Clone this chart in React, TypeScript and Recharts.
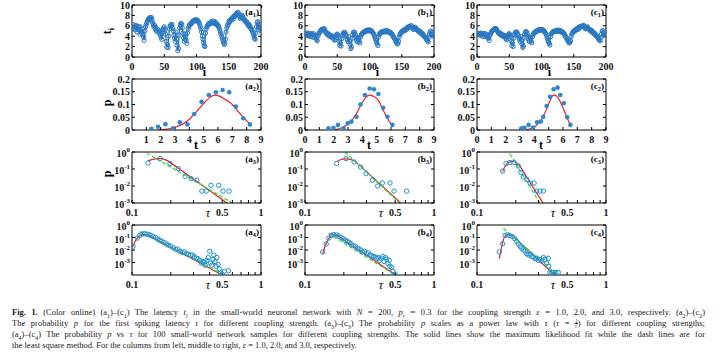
import React from 'react';
import { ComposedChart, LineChart, Line, Scatter, XAxis, YAxis } from 'recharts';

// ---- row 1: latency t_i of neuron i (eps = 1, 2, 3)
const latencyA = [
  5.6, 6.2, 5.4, 6.0, 5.2, 6.1, 5.6, 4.8, 5.9, 5.3,
  5.7, 4.4, 5.8, 5.0, 4.6, 5.4, 4.2, 3.8, 3.2, 5.0,
  5.8, 6.2, 6.6, 6.9, 7.2, 7.4, 7.3, 7.6, 7.5, 7.6,
  7.1, 6.6, 6.2, 5.8, 6.1, 5.4, 5.7, 5.0, 5.4, 4.8,
  5.2, 4.6, 5.0, 4.2, 3.8, 3.4, 4.6, 5.2, 5.6, 5.8,
  5.2, 4.4, 3.0, 1.9, 2.4, 1.8, 4.0, 5.4, 5.9, 6.2,
  6.0, 6.3, 5.6, 5.0, 4.2, 3.6, 3.0, 4.8, 3.4, 2.2,
  1.2, 1.6, 4.2, 5.6, 6.2, 6.5, 6.3, 5.6, 4.6, 3.6,
  3.0, 4.4, 4.0, 3.2, 2.6, 4.6, 5.4, 5.8, 6.2, 6.1,
  6.4, 6.6, 6.5, 6.8, 7.0, 6.9, 7.1, 7.0, 7.2, 6.9,
  7.1, 7.0, 6.8, 6.6, 6.2, 5.8, 5.4, 4.8, 4.0, 3.4,
  2.8, 2.2, 2.0, 4.6, 5.4, 5.8, 6.0, 6.3, 6.2, 6.5,
  6.4, 6.6, 6.8, 6.5, 6.7, 6.9, 6.6, 6.4, 6.8, 6.5,
  6.3, 6.1, 6.2, 5.9, 5.6, 5.2, 4.8, 4.4, 4.0, 3.6,
  3.2, 2.8, 2.4, 2.6, 3.4, 4.8, 5.6, 6.0, 6.3, 6.6,
  7.0, 6.8, 7.2, 7.1, 7.4, 7.6, 7.3, 7.8, 8.0, 7.8,
  8.2, 8.4, 8.3, 8.6, 8.5, 8.1, 7.8, 7.4, 7.6, 7.9,
  8.0, 7.7, 7.4, 7.2, 6.9, 7.0, 6.6, 6.8, 6.4, 6.1,
  6.3, 5.8, 6.0, 5.6, 5.4, 5.2, 4.8, 4.4, 4.0, 3.6,
  3.4, 4.6, 5.8, 6.6, 6.8, 6.2, 5.8, 5.2, 5.6, 5.0,
];
const latencyB = [
  4.3, 4.6, 4.2, 4.5, 4.1, 4.6, 4.3, 3.9, 4.5, 4.2,
  4.4, 3.8, 4.5, 4.0, 3.8, 4.2, 3.6, 3.4, 3.1, 4.0,
  4.4, 4.6, 4.8, 5.0, 5.2, 5.3, 5.2, 5.4, 5.4, 5.4,
  5.1, 4.8, 4.6, 4.4, 4.6, 4.2, 4.4, 4.0, 4.2, 3.9,
  4.1, 3.8, 4.0, 3.6, 3.4, 3.2, 3.8, 4.1, 4.3, 4.4,
  4.1, 3.7, 2.9, 2.2, 2.6, 2.1, 3.5, 4.2, 4.5, 4.7,
  4.6, 4.7, 4.3, 4.0, 3.6, 3.3, 2.9, 3.9, 3.1, 2.4,
  1.6, 1.9, 3.6, 4.3, 4.7, 4.8, 4.7, 4.3, 3.8, 3.2,
  2.9, 3.7, 3.5, 3.0, 2.7, 3.8, 4.2, 4.4, 4.6, 4.6,
  4.8, 4.9, 4.8, 5.0, 5.1, 5.0, 5.2, 5.1, 5.2, 5.0,
  5.2, 5.1, 5.0, 4.9, 4.7, 4.5, 4.3, 3.9, 3.5, 3.2,
  2.8, 2.5, 2.2, 3.8, 4.3, 4.5, 4.6, 4.8, 4.7, 4.9,
  4.8, 4.9, 5.0, 4.8, 5.0, 5.1, 4.9, 4.8, 5.0, 4.9,
  4.7, 4.6, 4.7, 4.5, 4.4, 4.2, 3.9, 3.7, 3.5, 3.3,
  3.0, 2.8, 2.5, 2.6, 3.0, 3.8, 4.3, 4.5, 4.7, 4.9,
  5.0, 4.9, 5.2, 5.1, 5.3, 5.4, 5.2, 5.6, 5.7, 5.6,
  5.8, 5.9, 5.8, 6.0, 6.0, 5.7, 5.6, 5.3, 5.4, 5.6,
  5.7, 5.5, 5.3, 5.2, 5.0, 5.1, 4.8, 5.0, 4.7, 4.5,
  4.6, 4.3, 4.4, 4.1, 3.9, 3.9, 3.7, 3.5, 3.3, 3.1,
  2.9, 3.8, 4.4, 4.8, 5.0, 4.6, 4.3, 4.0, 4.4, 4.1,
];
const latencyC = [
  4.4, 4.6, 4.3, 4.5, 4.2, 4.6, 4.4, 4.0, 4.5, 4.3,
  4.5, 3.9, 4.5, 4.1, 3.9, 4.3, 3.8, 3.6, 3.2, 4.1,
  4.5, 4.7, 4.9, 5.1, 5.2, 5.3, 5.3, 5.5, 5.4, 5.4,
  5.1, 4.9, 4.7, 4.5, 4.7, 4.3, 4.5, 4.1, 4.3, 4.0,
  4.2, 3.9, 4.1, 3.7, 3.5, 3.3, 3.9, 4.2, 4.4, 4.5,
  4.2, 3.8, 3.0, 2.2, 2.7, 2.0, 3.6, 4.3, 4.6, 4.8,
  4.7, 4.8, 4.4, 4.1, 3.7, 3.4, 3.0, 4.0, 3.2, 2.4,
  1.8, 2.1, 3.7, 4.4, 4.8, 4.9, 4.8, 4.4, 3.9, 3.3,
  3.0, 3.8, 3.6, 3.0, 2.7, 3.9, 4.3, 4.5, 4.7, 4.7,
  4.9, 5.0, 4.9, 5.1, 5.2, 5.1, 5.3, 5.2, 5.3, 5.1,
  5.3, 5.2, 5.1, 5.0, 4.8, 4.6, 4.4, 4.0, 3.6, 3.2,
  2.9, 2.6, 2.3, 3.9, 4.4, 4.6, 4.7, 4.9, 4.8, 5.0,
  4.9, 5.0, 5.1, 4.9, 5.1, 5.2, 5.0, 4.9, 5.1, 5.0,
  4.8, 4.7, 4.8, 4.6, 4.5, 4.3, 4.0, 3.8, 3.6, 3.3,
  3.1, 2.9, 2.7, 2.8, 3.1, 3.9, 4.4, 4.6, 4.8, 5.0,
  5.1, 5.0, 5.3, 5.2, 5.4, 5.5, 5.3, 5.7, 5.8, 5.7,
  5.8, 5.9, 5.9, 6.0, 6.1, 5.9, 5.7, 5.4, 5.5, 5.7,
  5.8, 5.6, 5.4, 5.3, 5.1, 5.2, 4.9, 5.1, 4.8, 4.6,
  4.7, 4.4, 4.5, 4.2, 4.0, 4.0, 3.8, 3.6, 3.4, 3.2,
  3.1, 3.7, 4.4, 4.9, 5.1, 4.7, 4.4, 4.1, 4.5, 4.2,
];

// ---- row 2: probability p of first spiking latency t
const a2T = [1.35, 1.82, 2.33, 2.87, 3.33, 3.87, 4.34, 4.85, 5.36, 5.85, 6.32, 6.78, 7.25, 7.76, 8.23];
const a2P = [0.005, 0.013, 0.023, 0.007, 0.03, 0.022, 0.063, 0.111, 0.137, 0.148, 0.157, 0.148, 0.092, 0.046, 0.022];
const a2FitT = [1.8, 2.2, 2.6, 3.0, 3.5, 4.0, 4.5, 5.0, 5.4, 5.75, 6.1, 6.5, 7.0, 7.5, 8.0, 8.25];
const a2FitP = [0, 0.002, 0.005, 0.011, 0.022, 0.042, 0.072, 0.104, 0.126, 0.137, 0.133, 0.12, 0.1, 0.066, 0.036, 0.024];

const b2T = [1.64, 1.99, 2.3, 2.7, 2.98, 3.24, 3.59, 3.87, 4.18, 4.51, 4.81, 5.12, 5.45, 5.75, 6.1];
const b2P = [0.007, 0.009, 0.02, 0.007, 0.026, 0.033, 0.052, 0.1, 0.137, 0.163, 0.16, 0.141, 0.087, 0.052, 0.02];
const b2FitT = [1.9, 2.3, 2.7, 3.2, 3.6, 3.9, 4.2, 4.46, 4.75, 5.1, 5.45, 5.75, 6.1];
const b2FitP = [0, 0.004, 0.013, 0.033, 0.065, 0.098, 0.125, 0.137, 0.133, 0.118, 0.078, 0.046, 0.016];

const c2T = [3.12, 3.31, 3.6, 3.91, 4.19, 4.45, 4.62, 4.86, 5.1, 5.34, 5.62, 5.81, 6.05, 6.29, 6.52];
const c2P = [0.007, 0.009, 0.02, 0.01, 0.03, 0.033, 0.052, 0.094, 0.13, 0.16, 0.166, 0.137, 0.105, 0.05, 0.02];
const c2FitT = [3.3, 3.7, 4.1, 4.5, 4.8, 5.05, 5.34, 5.55, 5.8, 6.05, 6.3, 6.5];
const c2FitP = [0, 0.005, 0.016, 0.04, 0.075, 0.11, 0.137, 0.133, 0.112, 0.08, 0.046, 0.02];

// ---- row 3: p vs tau (one network)
const a3Tau = [0.133, 0.165, 0.197, 0.229, 0.258, 0.287, 0.318, 0.348, 0.377, 0.41, 0.47, 0.508, 0.566];
const a3P = [0.225, 0.41, 0.21, 0.105, 0.037, 0.027, 0.022, 0.005, 0.005, 0.011, 0.011, 0.005, 0.005];
const a3MleTau = [0.133, 0.138, 0.145, 0.152, 0.16, 0.168, 0.177, 0.19, 0.32, 0.546];
const a3MleP = [0.29, 0.33, 0.37, 0.395, 0.41, 0.405, 0.38, 0.3, 0.018, 0.001];
const a3LsqTau = [0.13, 0.6];
const a3LsqP = [0.87, 0.001];

const b3Tau = [0.176, 0.208, 0.24, 0.27, 0.297, 0.333, 0.366, 0.398, 0.456, 0.49, 0.614];
const b3P = [0.21, 0.41, 0.26, 0.13, 0.053, 0.022, 0.01, 0.015, 0.015, 0.005, 0.005];
const b3MleTau = [0.176, 0.181, 0.188, 0.197, 0.205, 0.215, 0.227, 0.245, 0.368, 0.552];
const b3MleP = [0.26, 0.31, 0.35, 0.385, 0.4, 0.395, 0.36, 0.28, 0.017, 0.001];
const b3LsqTau = [0.204, 0.54];
const b3LsqP = [1.0, 0.001];

const c3Tau = [0.158, 0.168, 0.18, 0.194, 0.209, 0.219, 0.229, 0.243, 0.258, 0.277, 0.29, 0.308, 0.327];
const c3P = [0.076, 0.21, 0.24, 0.24, 0.15, 0.061, 0.034, 0.024, 0.015, 0.015, 0.005, 0.005, 0.005];
const c3MleTau = [0.158, 0.161, 0.165, 0.17, 0.175, 0.18, 0.186, 0.193, 0.2, 0.215, 0.264, 0.325];
const c3MleP = [0.07, 0.1, 0.14, 0.19, 0.23, 0.26, 0.28, 0.28, 0.25, 0.15, 0.012, 0.001];
const c3LsqTau = [0.18, 0.304];
const c3LsqP = [0.8, 0.0011];

// ---- row 4: p vs tau (100 network samples)
const a4Tau = [0.102, 0.11, 0.115, 0.12, 0.125, 0.13, 0.135, 0.14, 0.146, 0.152, 0.158, 0.164, 0.17, 0.177, 0.185, 0.192, 0.2, 0.21, 0.218, 0.226, 0.235, 0.245, 0.255, 0.265, 0.275, 0.285, 0.295, 0.305, 0.315, 0.325, 0.335, 0.345, 0.355, 0.365, 0.37, 0.38, 0.39, 0.4, 0.405, 0.415, 0.425, 0.43, 0.44, 0.45, 0.455, 0.465, 0.475, 0.485, 0.5, 0.52, 0.56];
const a4P = [0.02, 0.09, 0.15, 0.19, 0.2, 0.19, 0.17, 0.15, 0.12, 0.1, 0.075, 0.06, 0.05, 0.04, 0.03, 0.024, 0.02, 0.015, 0.011, 0.012, 0.008, 0.0065, 0.007, 0.005, 0.0045, 0.0038, 0.004, 0.0028, 0.0022, 0.002, 0.0015, 0.0009, 0.0012, 0.0011, 0.0006, 0.0015, 0.0025, 0.008, 0.0009, 0.0006, 0.0018, 0.004, 0.0012, 0.0005, 0.0025, 0.0007, 0.0003, 0.00015, 0.00012, 0.0002, 0.00022];
const a4MleTau = [0.101, 0.104, 0.107, 0.11, 0.114, 0.118, 0.123, 0.128, 0.135, 0.26, 0.5];
const a4MleP = [0.018, 0.035, 0.06, 0.09, 0.13, 0.16, 0.175, 0.17, 0.15, 0.0039, 0.0001];
const a4LsqTau = [0.115, 0.5];
const a4LsqP = [0.3, 0.00012];

const b4Tau = [0.137, 0.146, 0.153, 0.16, 0.167, 0.175, 0.183, 0.19, 0.198, 0.205, 0.213, 0.22, 0.228, 0.236, 0.245, 0.255, 0.262, 0.27, 0.28, 0.29, 0.3, 0.31, 0.32, 0.33, 0.34, 0.35, 0.36, 0.37, 0.38, 0.39, 0.4, 0.41, 0.42, 0.43, 0.44, 0.45, 0.455, 0.47, 0.48, 0.5];
const b4P = [0.007, 0.03, 0.09, 0.15, 0.17, 0.16, 0.13, 0.1, 0.08, 0.06, 0.05, 0.04, 0.03, 0.022, 0.02, 0.014, 0.012, 0.01, 0.007, 0.008, 0.005, 0.006, 0.004, 0.0035, 0.003, 0.0028, 0.0022, 0.0025, 0.0015, 0.002, 0.003, 0.0012, 0.0025, 0.0018, 0.0008, 0.0015, 0.0005, 0.0004, 0.0002, 0.00012];
const b4MleTau = [0.137, 0.14, 0.143, 0.147, 0.151, 0.156, 0.161, 0.166, 0.172, 0.18, 0.304, 0.514];
const b4MleP = [0.005, 0.01, 0.02, 0.04, 0.07, 0.11, 0.15, 0.17, 0.165, 0.14, 0.0035, 0.00009];
const b4LsqTau = [0.152, 0.5];
const b4LsqP = [0.21, 0.0001];

const c4Tau = [0.149, 0.158, 0.165, 0.172, 0.18, 0.188, 0.196, 0.203, 0.209, 0.216, 0.222, 0.229, 0.236, 0.243, 0.25, 0.258, 0.265, 0.273, 0.282, 0.29, 0.299, 0.308, 0.317, 0.327, 0.337, 0.347, 0.357, 0.36, 0.368, 0.38, 0.39, 0.41, 0.427];
const c4P = [0.007, 0.032, 0.15, 0.16, 0.14, 0.12, 0.08, 0.05, 0.03, 0.02, 0.014, 0.01, 0.008, 0.005, 0.004, 0.0045, 0.003, 0.0028, 0.002, 0.0022, 0.0015, 0.0018, 0.0013, 0.0025, 0.0018, 0.0009, 0.0022, 0.0005, 0.00016, 0.00016, 0.00016, 0.00016, 0.00016];
const c4MleTau = [0.149, 0.152, 0.155, 0.158, 0.161, 0.165, 0.17, 0.176, 0.182, 0.19, 0.277, 0.403];
const c4MleP = [0.002, 0.006, 0.017, 0.04, 0.08, 0.13, 0.17, 0.18, 0.165, 0.13, 0.0034, 0.00009];
const c4LsqTau = [0.16, 0.415];
const c4LsqP = [0.54, 0.00012];

// ---- axis ticks
const indexTicks = [0, 50, 100, 150, 200];
const latencyTicks = [0, 2, 4, 6, 8, 10];
const timeTicksA = [1, 2, 3, 4, 5, 6, 7, 8, 9];
const timeTicks = [0, 1, 2, 3, 4, 5, 6, 7, 8, 9];
const probTicks = [0, 0.05, 0.1, 0.15, 0.2];
const tauTicks = [0.1, 0.2, 0.3, 0.4, 0.5, 0.6, 0.7, 0.8, 0.9, 1];
const tauLabels = [0.1, 0.5, 1];
const decadeTicks = [0.001, 0.01, 0.1, 1];

const pairs = (xs: number[], ys: number[]) => xs.map((x, k) => ({ x, y: ys[k] }));

const serif = '"Liberation Serif", "Times New Roman", serif';
const tickStyle = { fontFamily: serif, fontWeight: 700, fontSize: 10, fill: '#111' };
const blue = '#2a78c2';
const dotBlue = '#2f88cc';
const ringBlue = '#1f93d0';
const red = '#f21c2a';
const green = '#3ee13e';

const COL_X = [132, 305, 477];
const ROW_Y = [5, 79, 152, 225];
const ROW_H = [52, 51, 51, 50];
const PW = 129;
const PAD_L = 40;
const PAD_T = 7;
const PAD_B = 20;
const PAD_R = 9;
const MARGIN = { top: PAD_T - 1, right: PAD_R - 1, bottom: 0, left: 0 };

type Spec = {
  key: string;
  domain: [number, number];
  ticks: number[];
  log?: boolean;
  fmt?: (v: number) => string;
  pow?: boolean;
};

const blank = () => <g />;

const bottomTick = (fmt: (v: number) => string) => (p: any) => {
  const s = fmt(p.payload.value);
  if (!s) return <g />;
  return (
    <text x={p.x} y={p.y + 15.5} textAnchor="middle" style={tickStyle}>
      {s}
    </text>
  );
};

const leftTick = (p: any) => (
  <text x={p.x - 5} y={p.y + 3.5} textAnchor="end" style={tickStyle}>
    {String(p.payload.value)}
  </text>
);

const powTick = (p: any) => (
  <text x={p.x - 5} y={p.y + 5} textAnchor="end" style={tickStyle}>
    10
    <tspan dy={-5} style={{ fontSize: 7 }}>
      {Math.round(Math.log10(p.payload.value))}
    </tspan>
  </text>
);

function frame(xs: Spec, ys: Spec) {
  const line = { stroke: '#000', strokeWidth: 1 };
  const xScale = xs.log ? 'log' : 'linear';
  const yScale = ys.log ? 'log' : 'linear';
  return [
    <XAxis key="xb" dataKey={xs.key} type="number" scale={xScale} domain={xs.domain} ticks={xs.ticks}
      allowDataOverflow interval={0} height={PAD_B} tickSize={-3} tickMargin={0}
      axisLine={line} tickLine={line} tick={bottomTick(xs.fmt || String)} />,
    <XAxis key="xt" xAxisId="top" orientation="top" type="number" scale={xScale} domain={xs.domain}
      ticks={xs.ticks} allowDataOverflow interval={0} height={1} tickSize={-3}
      axisLine={line} tickLine={line} tick={blank} />,
    <YAxis key="yl" dataKey={ys.key} type="number" scale={yScale} domain={ys.domain} ticks={ys.ticks}
      allowDataOverflow interval={0} width={PAD_L} tickSize={-3} tickMargin={0}
      axisLine={line} tickLine={line} tick={ys.pow ? powTick : leftTick} />,
    <YAxis key="yr" yAxisId="right" orientation="right" type="number" scale={yScale} domain={ys.domain}
      ticks={ys.ticks} allowDataOverflow interval={0} width={1} tickSize={-3}
      axisLine={line} tickLine={line} tick={blank} />,
  ];
}

function Place({ col, row, children }: { col: number; row: number; children: React.ReactNode }) {
  return (
    <div style={{ position: 'absolute', left: COL_X[col] - PAD_L, top: ROW_Y[row] - PAD_T }}>
      {children}
    </div>
  );
}

const chartW = PAD_L + PW + PAD_R;
const chartH = (row: number) => PAD_T + ROW_H[row] + PAD_B;

function LatencyPanel({ col, values }: { col: number; values: number[] }) {
  const data = values.map((t, k) => ({ i: k + 1, t }));
  return (
    <Place col={col} row={0}>
      <LineChart width={chartW} height={chartH(0)} data={data} margin={MARGIN}>
        {frame(
          { key: 'i', domain: [0, 200], ticks: indexTicks },
          { key: 't', domain: [0, 10], ticks: latencyTicks },
        )}
        <Line dataKey="t" stroke={blue} strokeWidth={1.2} isAnimationActive={false}
          dot={{ r: 2.1, stroke: blue, strokeWidth: 1, fill: 'none' }} />
      </LineChart>
    </Place>
  );
}

function PdfPanel({ col, ticks, t, p, fitT, fitP }: any) {
  return (
    <Place col={col} row={1}>
      <ComposedChart width={chartW} height={chartH(1)} margin={MARGIN}>
        {frame(
          { key: 'x', domain: [0, 9], ticks },
          { key: 'y', domain: [0, 0.2], ticks: probTicks },
        )}
        <Scatter data={pairs(t, p)} isAnimationActive={false}
          shape={(s: any) => <circle cx={s.cx} cy={s.cy} r={2.3} fill={dotBlue} />} />
        <Line data={pairs(fitT, fitP)} dataKey="y" type="monotone" stroke={red} strokeWidth={1.2}
          dot={false} isAnimationActive={false} />
      </ComposedChart>
    </Place>
  );
}

function PowerPanel({ row, col, tau, p, mleTau, mleP, lsqTau, lsqP }: any) {
  const bottom = row === 2 ? 0.001 : 0.0001;
  return (
    <Place col={col} row={row}>
      <ComposedChart width={chartW} height={chartH(row)} margin={MARGIN}>
        {frame(
          { key: 'x', domain: [0.1, 1], ticks: tauTicks, log: true,
            fmt: (v) => (tauLabels.includes(v) ? String(v) : '') },
          { key: 'y', domain: [bottom, 1], ticks: decadeTicks, log: true, pow: true },
        )}
        <Scatter data={pairs(tau, p)} isAnimationActive={false}
          shape={(s: any) => <circle cx={s.cx} cy={s.cy} r={2.2} fill="none" stroke={ringBlue} strokeWidth={1} />} />
        <Line data={pairs(mleTau, mleP)} dataKey="y" type="linear" stroke={red} strokeWidth={1.2}
          dot={false} isAnimationActive={false} />
        <Line data={pairs(lsqTau, lsqP)} dataKey="y" type="linear" stroke={green} strokeWidth={1.3}
          strokeDasharray="4 2" dot={false} isAnimationActive={false} />
      </ComposedChart>
    </Place>
  );
}

function Txt({ x, y, children, rot, size = 11, italic, bold = true, anchor = 'center' }: any) {
  const shift = anchor === 'right' ? 'translate(-100%, -50%)' : 'translate(-50%, -50%)';
  return (
    <div style={{
      position: 'absolute', left: x, top: y, transform: shift + (rot ? ' rotate(-90deg)' : ''),
      fontFamily: serif, fontSize: size, fontWeight: bold ? 700 : 400,
      fontStyle: italic ? 'italic' : 'normal', whiteSpace: 'nowrap', lineHeight: 1, color: '#000',
    }}>
      {children}
    </div>
  );
}

const subStyle = { fontSize: '0.7em', lineHeight: 0, verticalAlign: 'sub' } as const;
const Sub = ({ children }: any) => <sub style={subStyle}>{children}</sub>;

function Tag({ col, row, letter }: { col: number; row: number; letter: string }) {
  return (
    <Txt x={COL_X[col] + PW - 2} y={ROW_Y[row] + 6.5} size={9} anchor="right">
      ({letter}<Sub>{row + 1}</Sub>)
    </Txt>
  );
}

const lineStyle = (k: number, last = false) => ({
  position: 'absolute' as const, left: 12, top: 307 + k * 10.9, width: 693, height: 11,
  lineHeight: '11px', textAlign: 'justify' as const, textAlignLast: last ? ('left' as const) : ('justify' as const),
});

export default function App() {
  const letters = ['a', 'b', 'c'];
  return (
    <div style={{ position: 'fixed', left: 0, top: 0, width: 719, height: 357, background: '#fff', overflow: 'hidden' }}>
      <LatencyPanel col={0} values={latencyA} />
      <LatencyPanel col={1} values={latencyB} />
      <LatencyPanel col={2} values={latencyC} />
      <PdfPanel col={0} ticks={timeTicksA} t={a2T} p={a2P} fitT={a2FitT} fitP={a2FitP} />
      <PdfPanel col={1} ticks={timeTicks} t={b2T} p={b2P} fitT={b2FitT} fitP={b2FitP} />
      <PdfPanel col={2} ticks={timeTicks} t={c2T} p={c2P} fitT={c2FitT} fitP={c2FitP} />
      <PowerPanel row={2} col={0} tau={a3Tau} p={a3P} mleTau={a3MleTau} mleP={a3MleP} lsqTau={a3LsqTau} lsqP={a3LsqP} />
      <PowerPanel row={2} col={1} tau={b3Tau} p={b3P} mleTau={b3MleTau} mleP={b3MleP} lsqTau={b3LsqTau} lsqP={b3LsqP} />
      <PowerPanel row={2} col={2} tau={c3Tau} p={c3P} mleTau={c3MleTau} mleP={c3MleP} lsqTau={c3LsqTau} lsqP={c3LsqP} />
      <PowerPanel row={3} col={0} tau={a4Tau} p={a4P} mleTau={a4MleTau} mleP={a4MleP} lsqTau={a4LsqTau} lsqP={a4LsqP} />
      <PowerPanel row={3} col={1} tau={b4Tau} p={b4P} mleTau={b4MleTau} mleP={b4MleP} lsqTau={b4LsqTau} lsqP={b4LsqP} />
      <PowerPanel row={3} col={2} tau={c4Tau} p={c4P} mleTau={c4MleTau} mleP={c4MleP} lsqTau={c4LsqTau} lsqP={c4LsqP} />

      {[0, 1, 2, 3].map((row) => letters.map((l, col) => <Tag key={l + row} col={col} row={row} letter={l} />))}

      <Txt x={107} y={31} rot size={12}>t<Sub>i</Sub></Txt>
      <Txt x={107} y={103} rot size={12}>p</Txt>
      <Txt x={107} y={174} rot size={12}>p</Txt>
      {COL_X.map((x) => (
        <React.Fragment key={x}>
          <Txt x={x + 72.5} y={72} size={12}>i</Txt>
          <Txt x={x + 64} y={145} size={12}>t</Txt>
          <Txt x={x + 76} y={213} size={12} italic bold={false}>τ</Txt>
          <Txt x={x + 76} y={285} size={12} italic bold={false}>τ</Txt>
        </React.Fragment>
      ))}

      <div style={{ fontFamily: serif, fontSize: 8.5, color: '#222' }}>
        <div style={lineStyle(0)}>
          <b>Fig. 1.</b> (Color online) (a<Sub>1</Sub>)–(c<Sub>1</Sub>) The latency <i>t<Sub>i</Sub></i> in the
          small-world neuronal network with <i>N</i> = 200, <i>p<Sub>r</Sub></i> = 0.3 for the coupling strength{' '}
          <i>ε</i> = 1.0, 2.0, and 3.0, respectively. (a<Sub>2</Sub>)–(c<Sub>2</Sub>)
        </div>
        <div style={lineStyle(1)}>
          The probability <i>p</i> for the first spiking latency <i>t</i> for different coupling strength.
          (a<Sub>3</Sub>)–(c<Sub>3</Sub>) The probability <i>p</i> scales as a power law with <i>τ</i> (<i>τ</i> ={' '}
          <span style={{ display: 'inline-flex', flexDirection: 'column', fontSize: '0.6em', lineHeight: '0.9em', verticalAlign: 'middle', textAlign: 'center' }}>
            <span style={{ borderBottom: '0.5px solid #222' }}>1</span>
            <i>t</i>
          </span>
          ) for different coupling strengths;
        </div>
        <div style={lineStyle(2)}>
          (a<Sub>4</Sub>)–(c<Sub>4</Sub>) The probability <i>p</i> vs <i>τ</i> for 100 small-world network samples
          for different coupling strengths. The solid lines show the maximum likelihood fit while the dash lines are for
        </div>
        <div style={lineStyle(3, true)}>
          the least square method. For the columns from left, middle to right, <i>ε</i> = 1.0, 2.0, and 3.0,
          respectively.
        </div>
      </div>
    </div>
  );
}
